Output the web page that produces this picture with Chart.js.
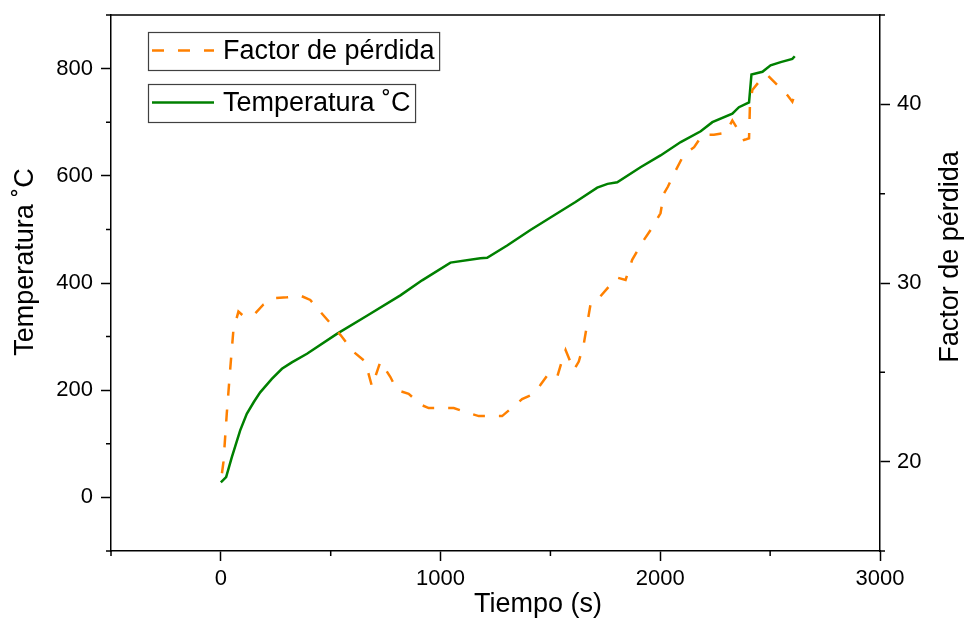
<!DOCTYPE html>
<html>
<head>
<meta charset="utf-8">
<script src="https://cdn.jsdelivr.net/npm/chart.js@4.4.1/dist/chart.umd.min.js"></script>
<style>
    html, body { margin: 0; padding: 0; background: #fff; }
    canvas { display: block; }
</style>
</head>
<body>
<canvas id="lossChart" width="965" height="619"></canvas>
<script>
// Temperatura (eje izquierdo)
const tempTime = [0, 24, 50, 88, 118, 150, 179, 232, 278, 323, 392, 528, 665, 817, 916, 1045, 1181, 1212, 1303, 1409, 1515, 1614, 1713, 1760, 1804, 1910, 2001, 2093, 2184, 2237, 2328, 2358, 2404, 2415, 2465, 2502, 2548, 2601, 2612];
const tempValue = [28, 38, 75, 125, 156, 178, 196, 221, 240, 252, 268, 305, 339, 377, 405, 438, 446, 447, 470, 499, 526, 551, 578, 585, 588, 616, 638, 663, 683, 700, 716, 728, 737, 789, 794, 806, 812, 818, 823];

// Factor de pérdida (eje derecho)
const lossTime = [5, 12, 27, 42, 57, 80, 103, 156, 194, 247, 301, 361, 407, 452, 498, 544, 604, 657, 688, 726, 771, 802, 855, 908, 946, 1060, 1121, 1174, 1235, 1280, 1333, 1371, 1424, 1455, 1493, 1531, 1554, 1569, 1606, 1629, 1652, 1683, 1720, 1759, 1804, 1842, 1872, 1925, 1956, 2001, 2016, 2035, 2062, 2108, 2154, 2192, 2244, 2298, 2328, 2358, 2381, 2404, 2408, 2419, 2449, 2487, 2533, 2578, 2601, 2609];
const lossFactor = [19.35, 20.0, 22.7, 25.1, 27.35, 28.4, 28.15, 28.3, 28.8, 29.15, 29.2, 29.3, 29.05, 28.4, 27.75, 27.1, 26.15, 25.6, 24.2, 25.6, 24.75, 24.0, 23.8, 23.2, 23.0, 23.0, 22.75, 22.55, 22.55, 22.55, 23.1, 23.5, 23.8, 24.3, 24.95, 24.75, 25.7, 26.25, 25.13, 25.6, 26.6, 28.85, 29.15, 29.7, 30.3, 30.17, 31.3, 32.4, 32.97, 33.9, 35.0, 35.4, 36.1, 37.2, 37.6, 38.3, 38.3, 38.4, 39.1, 38.5, 38.0, 38.1, 39.95, 40.8, 41.26, 41.64, 41.08, 40.52, 40.15, 40.43];

// Marcas de los ejes
const timeTicks = [0, 1000, 2000, 3000];
const timeMinor = [-500, 500, 1500, 2500];
const tempTicks = [0, 200, 400, 600, 800];
const tempMinor = [-100, 100, 300, 500, 700, 900];
const lossTicks = [20, 30, 40];
const lossMinor = [15, 25, 35, 45];

const FONT = 'Arial, "Liberation Sans", sans-serif';
const ORANGE = "#ff8000";
const GREEN = "#008000";
const DASH = [12, 14];

function pts(xs, ys) {
    return xs.map((x, i) => ({ x: x, y: ys[i] }));
}

function fixTicks(values) {
    return (scale) => {
        scale.ticks = values.map(v => ({ value: v }));
    };
}

function fixSize(prop, size) {
    return (scale) => {
        scale[prop] = size;
        scale.paddingTop = 0;
        scale.paddingBottom = 0;
        scale.paddingLeft = 0;
        scale.paddingRight = 0;
    };
}

function tickFont(pad) {
    return {
        color: "#000",
        font: { family: FONT, size: 22 },
        padding: pad,
        maxRotation: 0,
        callback: (v) => String(v)
    };
}

const axisStyle = {
    grid: { drawOnChartArea: false, tickLength: 10, tickWidth: 1.5, tickColor: "#000" },
    border: { color: "#000", width: 1.5 }
};

// marcas menores, marco superior y títulos de los ejes
const frameAndTitles = {
    id: "frameAndTitles",
    afterDraw(chart) {
        const ctx = chart.ctx;
        const { x, y, y1 } = chart.scales;
        const area = chart.chartArea;

        ctx.save();
        ctx.strokeStyle = "#000";
        ctx.lineWidth = 1.5;
        ctx.beginPath();
        timeMinor.forEach(v => {
            const px = x.getPixelForValue(v);
            ctx.moveTo(px, area.bottom);
            ctx.lineTo(px, area.bottom + 5);
        });
        tempMinor.forEach(v => {
            const py = y.getPixelForValue(v);
            ctx.moveTo(area.left, py);
            ctx.lineTo(area.left - 5, py);
        });
        lossMinor.forEach(v => {
            const py = y1.getPixelForValue(v);
            ctx.moveTo(area.right, py);
            ctx.lineTo(area.right + 5, py);
        });
        ctx.moveTo(area.left, area.top);
        ctx.lineTo(area.right, area.top);
        ctx.stroke();

        ctx.fillStyle = "#000";
        ctx.font = "27px " + FONT;
        ctx.textAlign = "center";
        ctx.textBaseline = "alphabetic";
        ctx.fillText("Tiempo (s)", 538, 612);

        ctx.translate(33, 262);
        ctx.rotate(-Math.PI / 2);
        ctx.fillText("Temperatura ˚C", 0, 0);
        ctx.restore();

        ctx.save();
        ctx.fillStyle = "#000";
        ctx.font = "27px " + FONT;
        ctx.textAlign = "center";
        ctx.translate(958, 257);
        ctx.rotate(-Math.PI / 2);
        ctx.fillText("Factor de pérdida", 0, 0);
        ctx.restore();
    }
};

// leyenda: una caja por serie
const legendBoxes = {
    id: "legendBoxes",
    afterDraw(chart) {
        const ctx = chart.ctx;
        const rows = [
            { ds: chart.data.datasets[0], top: 32, lineY: 50.5, base: 59 },
            { ds: chart.data.datasets[1], top: 84, lineY: 102.5, base: 111 }
        ];

        ctx.save();
        ctx.font = "27px " + FONT;
        rows.forEach(r => {
            const w = ctx.measureText(r.ds.label).width;
            ctx.strokeStyle = "#404040";
            ctx.lineWidth = 1.2;
            ctx.setLineDash([]);
            ctx.strokeRect(148.5, r.top + 0.5, 223 + w + 5 - 148.5, 38);

            ctx.strokeStyle = r.ds.borderColor;
            ctx.lineWidth = r.ds.borderWidth;
            ctx.setLineDash(r.ds.borderDash || []);
            ctx.beginPath();
            ctx.moveTo(152, r.lineY);
            ctx.lineTo(214, r.lineY);
            ctx.stroke();

            ctx.setLineDash([]);
            ctx.fillStyle = "#000";
            ctx.textAlign = "left";
            ctx.textBaseline = "alphabetic";
            ctx.fillText(r.ds.label, 223, r.base);
        });
        ctx.restore();
    }
};

const ctx = document.getElementById("lossChart").getContext("2d");

const chart = new Chart(ctx, {
    type: "line",
    data: {
        datasets: [
            {
                label: "Factor de pérdida",
                data: pts(lossTime, lossFactor),
                yAxisID: "y1",
                borderColor: ORANGE,
                borderWidth: 2.5,
                borderDash: DASH,
                pointRadius: 0,
                tension: 0,
                fill: false
            },
            {
                label: "Temperatura ˚C",
                data: pts(tempTime, tempValue),
                yAxisID: "y",
                borderColor: GREEN,
                borderWidth: 2.5,
                pointRadius: 0,
                tension: 0,
                fill: false
            }
        ]
    },

    options: {
        responsive: false,
        animation: false,
        devicePixelRatio: 1,
        layout: { padding: { top: 15, left: 0, right: 0, bottom: 0 } },

        plugins: {
            legend: { display: false },
            tooltip: { enabled: false }
        },

        scales: {
            x: {
                type: "linear",
                position: "bottom",
                min: -500,
                max: 3000,
                afterBuildTicks: fixTicks(timeTicks),
                afterFit: fixSize("height", 68),
                ticks: tickFont(5),
                ...axisStyle
            },
            y: {
                type: "linear",
                position: "left",
                min: -100,
                max: 900,
                afterBuildTicks: fixTicks(tempTicks),
                afterFit: fixSize("width", 111),
                ticks: tickFont(8),
                ...axisStyle
            },
            y1: {
                type: "linear",
                position: "right",
                min: 15,
                max: 45,
                afterBuildTicks: fixTicks(lossTicks),
                afterFit: fixSize("width", 85),
                ticks: tickFont(7),
                ...axisStyle
            }
        }
    },

    plugins: [frameAndTitles, legendBoxes]
});
</script>
</body>
</html>
